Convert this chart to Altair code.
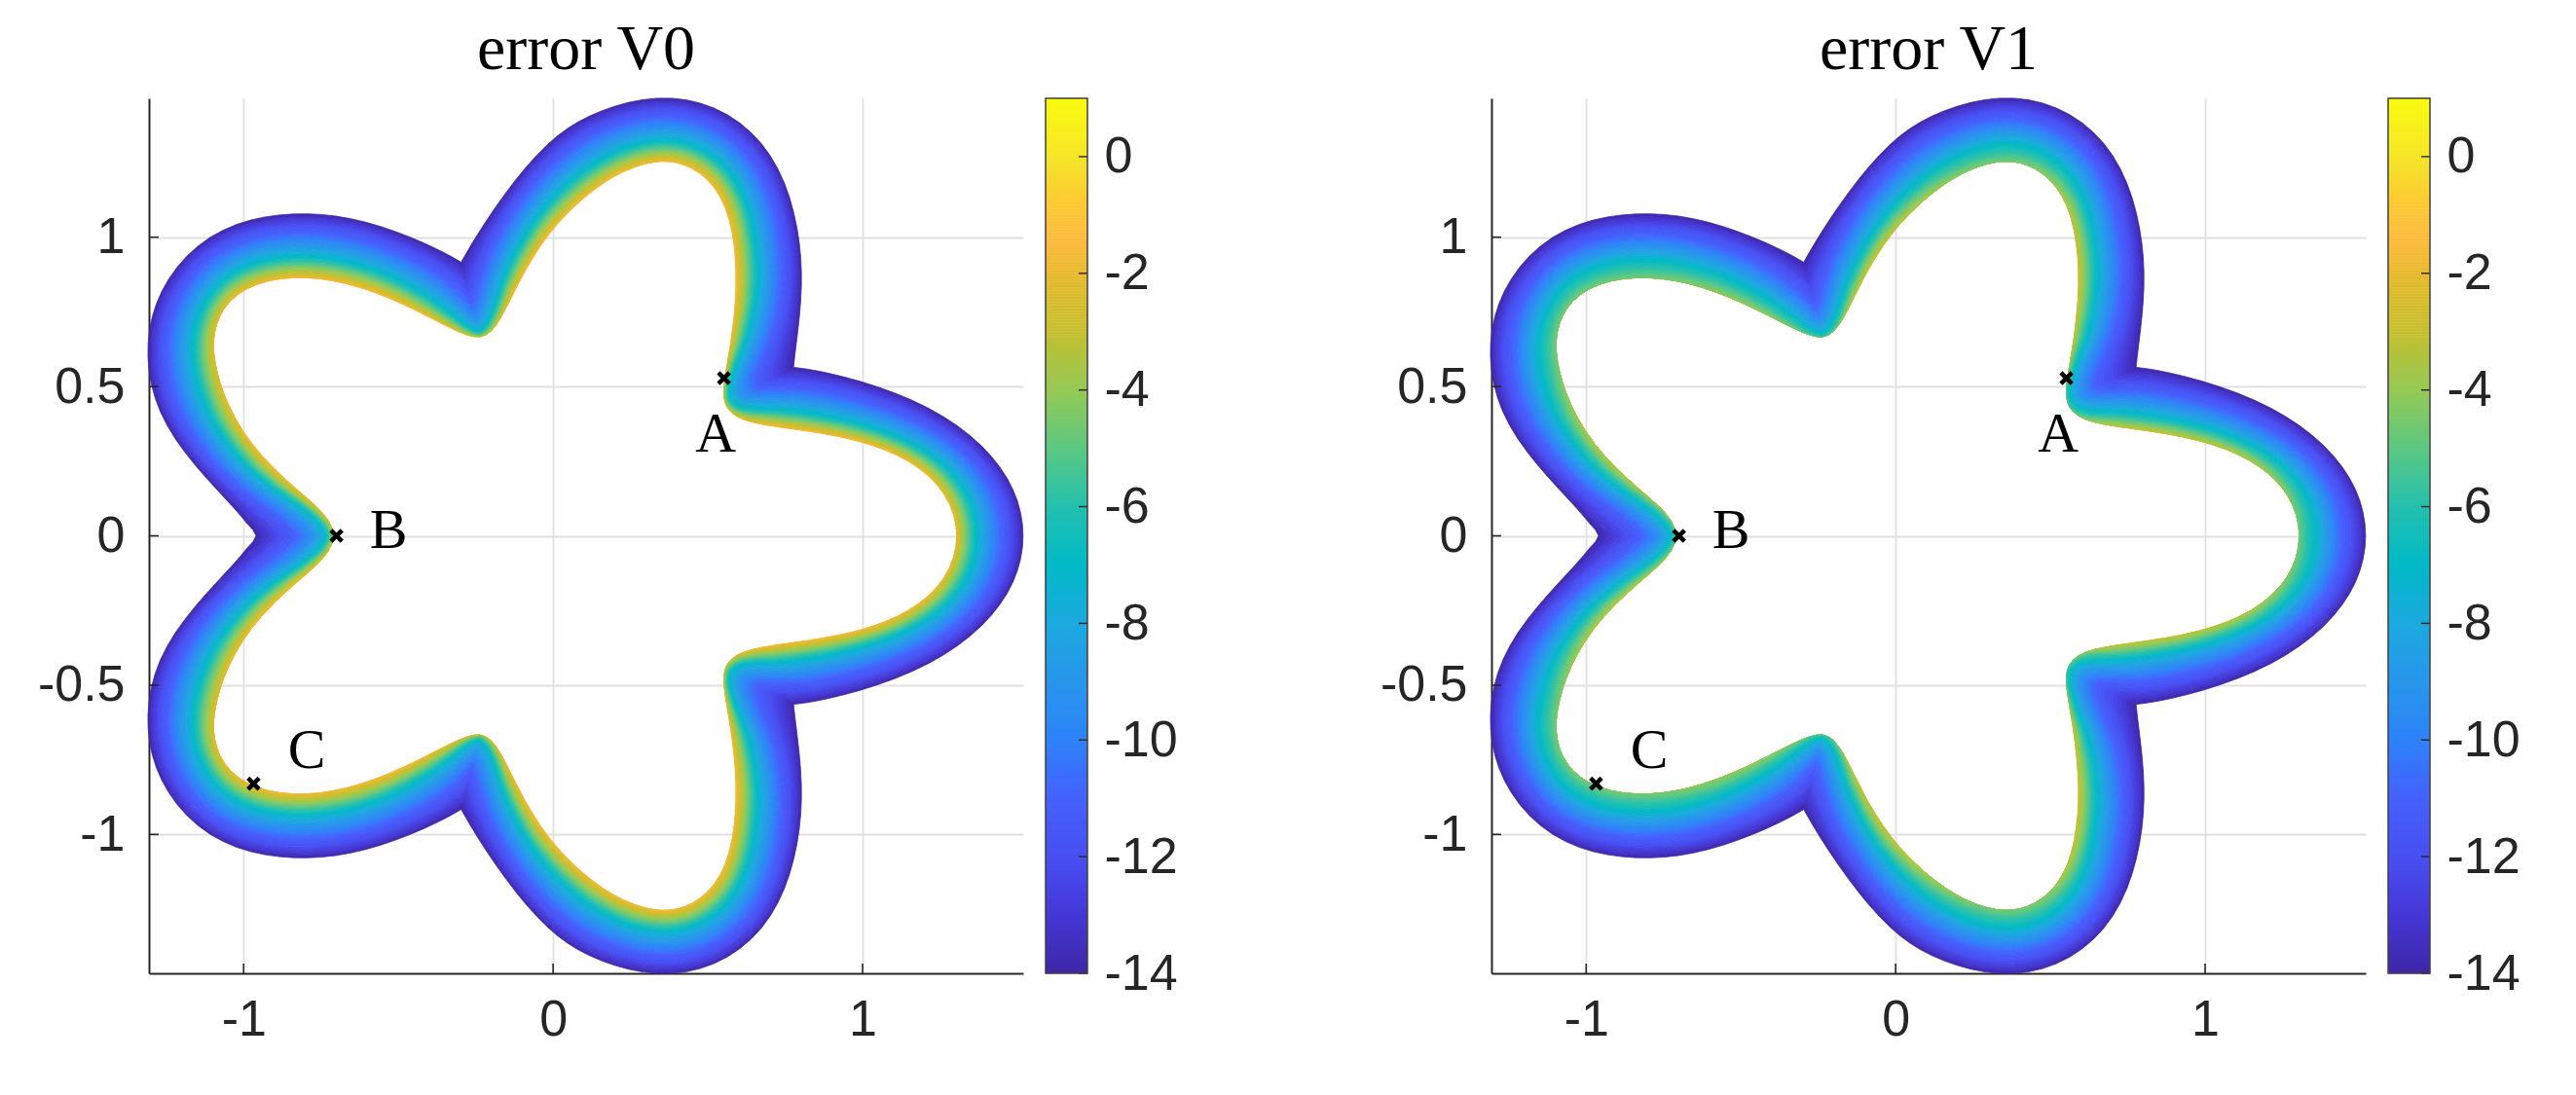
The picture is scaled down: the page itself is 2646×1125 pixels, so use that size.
import altair as alt
import numpy as np
import pandas as pd

alt.data_transformers.disable_max_rows()

# Upper half of the domain (the lower half is its mirror image in y=0)
OUTER_X = [1.516,1.508,1.484,1.443,1.381,1.302,1.213,1.111,.999,.887,.797,.777,.777,.778,.786,.797,.803,.799,.786,.763,.724,.673,.606,.516,.426,.337,.247,.157,.067,.025,-.048,-.122,-.185,-.242,-.279,-.297,-.297,-.297,-.331,-.373,-.468,-.562,-.656,-.751,-.835,-.929,-1.023,-1.107,-1.180,-1.243,-1.280,-1.301,-1.306,-1.296,-1.270,-1.222,-1.160,-1.086,-1.023,-.987,-.960]
OUTER_Y = [0,.078,.154,.230,.301,.371,.425,.474,.518,.545,.560,.564,.564,.583,.664,.751,.838,.925,1.034,1.131,1.229,1.310,1.381,1.433,1.457,1.464,1.452,1.419,1.376,1.343,1.278,1.196,1.099,1.012,.947,.916,.916,.916,.936,.958,1.001,1.039,1.063,1.073,1.074,1.066,1.042,1.001,.936,.860,.773,.686,.610,.502,.415,.328,.241,.154,.089,.040,0]
INNER_X = [1.302,1.293,1.263,1.213,1.145,1.067,.977,.876,.763,.673,.617,.578,.556,.552,.561,.575,.586,.590,.587,.575,.556,.522,.477,.415,.376,.337,.258,.191,.123,.067,.015,-.038,-.090,-.137,-.169,-.200,-.237,-.279,-.331,-.405,-.489,-.583,-.667,-.751,-.835,-.918,-.992,-1.044,-1.076,-1.092,-1.094,-1.092,-1.086,-1.065,-1.029,-.976,-.908,-.835,-.766,-.730,-.709]
INNER_Y = [0,.073,.138,.200,.250,.288,.319,.343,.360,.373,.388,.415,.458,.491,.556,.643,.751,.838,.925,1.023,1.099,1.164,1.213,1.242,1.247,1.248,1.238,1.202,1.148,1.093,1.044,.979,.892,.795,.730,.686,.669,.675,.697,.735,.778,.816,.844,.858,.863,.854,.827,.784,.740,.675,.643,.599,.556,.480,.393,.311,.230,.159,.100,.056,0]
# Share of the band's width (from the inner edge) at which the cyan contour lies
CYAN_SHARE = [.30,.31,.32,.33,.34,.34,.34,.34,.33,.30,.22,.14,.09,.09,.15,.25,.31,.34,.34,.34,.34,.34,.34,.34,.34,.34,.34,.34,.34,.34,.34,.34,.32,.28,.2,.13,.08,.14,.22,.28,.32,.34,.34,.34,.34,.34,.34,.34,.34,.34,.34,.34,.34,.34,.34,.34,.34,.30,.22,.15,.1]
# Error on the inner edge
EDGE_V0 = [-2,-2,-2,-1.9,-1.8,-1.7,-1.6,-1.6,-1.6,-1.6,-1.6,-1.6,-1.6,-1.6,-1.6,-1.6,-1.6,-1.6,-1.6,-1.6,-1.6,-1.6,-1.6,-1.7,-1.7,-1.7,-1.7,-1.6,-1.6,-1.6,-1.6,-1.6,-1.6,-1.6,-1.6,-1.6,-1.6,-1.6,-1.6,-1.6,-1.6,-1.6,-1.7,-1.8,-1.8,-1.8,-1.9,-2,-2.2,-2.3,-2.3,-2.3,-2.3,-2.2,-2.0,-1.8,-1.7,-1.6,-1.6,-1.7,-2]
EDGE_V1 = [-4.8,-4.6,-4.3,-4,-3.6,-3.3,-3.1,-3,-3,-3.2,-4,-4.5,-4.6,-4.4,-3.6,-3,-2.9,-2.8,-2.8,-3,-3.4,-3.9,-4.2,-4.5,-4.6,-4.6,-4.5,-4.2,-3.8,-3.4,-3.1,-2.9,-2.8,-3,-3.6,-4.3,-4.6,-4.5,-4.3,-4.1,-4,-4.1,-4.3,-4.5,-4.6,-4.6,-4.6,-4.6,-4.6,-4.6,-4.6,-4.6,-4.5,-4.2,-3.8,-3.5,-3.4,-3.5,-3.7,-4,-4.5]

LEVELS = list(np.arange(-14, -0.9, 0.3))
# Error levels and their share across the band, from the inner edge, per panel
KNOT_E = [-14, -13, -12, -11, -9, -7]
KNOT_SHARE = {"V0": [1, .93, .83, .71, .51, .34], "V1": [1, .92, .81, .68, .47, .29]}

POINTS_X = [.552, -.700, -.968]
POINTS_Y = [.528, 0, -.83]
LABELS = ["A", "B", "C"]
LABELS_X = [.460, -.593, -.857]
LABELS_Y = [.282, -.04, -.776]

XTICKS = [-1, 0, 1]
YTICKS = [-1, -.5, 0, .5, 1]
CTICKS = [-14, -12, -10, -8, -6, -4, -2, 0]

COLOR_E = [-14,-13,-12,-11,-10,-9,-8,-7,-6,-5,-4,-3,-2,-1.4,-.7,0,1]
COLOR_HEX = ["#3e26a8","#4537d6","#484ff2","#4561fc","#2e82f9","#2796eb","#1ca9df","#01b9c7","#24c0ae","#5cc882","#95c955","#c5bf2f","#e8b92e","#fdbb3d","#fccd32","#f5e529","#f9fb0e"]

W, H, CW = 898, 899, 43
INK = "#262626"
SANS = "Liberation Sans"
SERIF = "Liberation Serif"
SANS_SIZE = 52
SERIF_SIZE = 66


def closed(values, sign=1):
    v = np.array(values, float)
    return np.concatenate([v, sign * v[-2:0:-1]])


def relax(px, py, pairs, keep=()):
    """Even out the reading noise of hand-read boundary points without shrinking the curve."""
    P = np.c_[px, py]
    keep = list(keep)
    for _ in range(pairs):
        for f in (.5, -.53):
            Q = P + f * ((np.roll(P, 1, 0) + np.roll(P, -1, 0)) / 2 - P)
            Q[keep] = P[keep]
            P = Q
    return P


def upsample(P, n=2):
    m = len(P)
    prev, nxt = np.roll(P, 1, 0), np.roll(P, -1, 0)
    T = (nxt - prev) / 2
    a, b = P - prev, nxt - P
    la, lb = np.linalg.norm(a, axis=1), np.linalg.norm(b, axis=1)
    c = (a * b).sum(1) / np.maximum(la * lb, 1e-9)
    T[(la < 1e-9) | (lb < 1e-9) | (c < .3)] = 0
    out = []
    for i in range(m):
        j = (i + 1) % m
        for s in np.arange(n) / n:
            h = (2*s**3-3*s**2+1)*P[i] + (s**3-2*s**2+s)*T[i] + (-2*s**3+3*s**2)*P[j] + (s**3-s**2)*T[j]
            out.append(h)
    return np.array(out)


def upsample_linear(v, n=2):
    m = len(v)
    return np.array([v[i] + (v[(i+1) % m]-v[i]) * s for i in range(m) for s in np.arange(n)/n])


OX, OY = closed(OUTER_X), closed(OUTER_Y, -1)
NOTCH = [i for i in range(len(OX)) if (abs(OX[i]-OX[i-1]) + abs(OY[i]-OY[i-1]) < 1e-6)
         or (abs(OX[i]-OX[(i+1) % len(OX)]) + abs(OY[i]-OY[(i+1) % len(OX)]) < 1e-6)] + [60]
OUT = upsample(relax(OX, OY, 8, NOTCH))
INN = upsample(relax(closed(INNER_X), closed(INNER_Y, -1), 7))
CY = upsample_linear(closed(CYAN_SHARE))
POWER = np.log(CY) / np.log(.34)


def ring(e, edge, share):
    f7 = share[-1]
    if e <= -7:
        tau = np.full(len(edge), np.interp(e, KNOT_E, share))
    else:
        tau = np.clip(f7 * (edge - e) / (edge + 7), 0, 1)
    t = tau ** POWER
    return INN + t[:, None] * (OUT - INN)


def bands(edge_list, share):
    edge = upsample_linear(closed(edge_list))
    levels = [v for v in LEVELS if v <= edge.max() + .3]
    rows = []
    # hottest band first, so that bands collapsed on the inner edge end up underneath
    for k in range(len(levels) - 2, -1, -1):
        a = ring(levels[k], edge, share)
        b = ring(levels[k + 1], edge, share)
        path = np.vstack([a, a[:1], b[:1], b[::-1]])
        for o, (x, y) in enumerate(path):
            rows.append((round(float(x), 4), round(float(y), 4), k, o, round((levels[k]+levels[k+1])/2, 2)))
    return pd.DataFrame(rows, columns=["x", "y", "band", "o", "e"])


color_scale = alt.Scale(domain=COLOR_E, range=COLOR_HEX, interpolate="rgb")
sx = alt.Scale(domain=[-1.306, 1.519], nice=False, zero=False)
sy = alt.Scale(domain=[-1.465, 1.465], nice=False, zero=False)
NUM = "'' + datum.value"
XAXIS = alt.Axis(values=XTICKS, grid=True, gridColor="#e0e0e0", gridWidth=1.8, ticks=False,
                 domainColor=INK, domainWidth=2, labelFont=SANS, labelFontSize=SANS_SIZE, labelColor=INK,
                 labelPadding=22, labelExpr=NUM, title=None)
YAXIS = alt.Axis(values=YTICKS, grid=True, gridColor="#e0e0e0", gridWidth=1.8, ticks=False,
                 domainColor=INK, domainWidth=2, labelFont=SANS, labelFontSize=SANS_SIZE, labelColor=INK,
                 labelPadding=25, labelExpr=NUM, minExtent=145, maxExtent=145, title=None)


def panel(name, edge):
    base = bands(edge, KNOT_SHARE[name])
    fill = alt.Chart(base).mark_line(interpolate="linear", strokeWidth=.8, filled=True, clip=False).encode(
        x=alt.X("x:Q", scale=sx, axis=XAXIS),
        y=alt.Y("y:Q", scale=sy, axis=YAXIS),
        detail="band:N",
        order="o:Q",
        stroke=alt.Stroke("e:Q", scale=color_scale, legend=None),
        fill=alt.Fill("e:Q", scale=color_scale, legend=None),
    )
    xt = alt.Chart(pd.DataFrame({"v": XTICKS})).mark_rule(color=INK, strokeWidth=1.6).encode(
        x=alt.X("v:Q", scale=sx, axis=XAXIS), y=alt.value(H), y2=alt.value(H - 10))
    yt = alt.Chart(pd.DataFrame({"v": YTICKS})).mark_rule(color=INK, strokeWidth=1.6).encode(
        y=alt.Y("v:Q", scale=sy, axis=YAXIS), x=alt.value(0), x2=alt.value(10))
    pts = alt.Chart(pd.DataFrame({"x": POINTS_X, "y": POINTS_Y})).mark_point(
        shape="M-1,-1L1,1M-1,1L1,-1", size=130, filled=False, color="black", strokeWidth=4.5, opacity=1
    ).encode(x=alt.X("x:Q", scale=sx, axis=XAXIS), y=alt.Y("y:Q", scale=sy, axis=YAXIS))
    txt = alt.Chart(pd.DataFrame({"x": LABELS_X, "y": LABELS_Y, "t": LABELS})).mark_text(
        font=SERIF, fontSize=58, align="left", baseline="alphabetic", color="black"
    ).encode(x=alt.X("x:Q", scale=sx, axis=XAXIS), y=alt.Y("y:Q", scale=sy, axis=YAXIS), text="t:N")
    return alt.layer(fill, xt, yt, pts, txt).properties(
        width=W, height=H,
        title=alt.TitleParams(f"error {name}", font=SERIF, fontSize=SERIF_SIZE, fontWeight="normal",
                              color="black", offset=14))


def colorbar(extent):
    steps = np.arange(-14, 1, .05)
    df = pd.DataFrame({"e0": steps, "e1": steps + .06, "e": steps + .025})
    cs = alt.Scale(domain=[-14, 1], nice=False, zero=False)
    ax = alt.Axis(orient="right", values=CTICKS, grid=False, ticks=False, domain=False,
                  labelFont=SANS, labelFontSize=SANS_SIZE, labelColor=INK, labelPadding=17, labelAlign="left",
                  labelExpr=NUM, minExtent=extent, maxExtent=extent, title=None)
    rect = alt.Chart(df).mark_rect().encode(
        y=alt.Y("e0:Q", scale=cs, axis=ax),
        y2="e1:Q",
        x=alt.value(0), x2=alt.value(CW),
        fill=alt.Fill("e:Q", scale=color_scale, legend=None),
    )
    ticks = alt.Chart(pd.DataFrame({"v": CTICKS})).mark_rule(color=INK, strokeWidth=1.4).encode(
        y=alt.Y("v:Q", scale=cs, axis=ax), x=alt.value(CW - 9), x2=alt.value(CW))
    box = alt.Chart(pd.DataFrame({"a": [-14], "b": [1]})).mark_rect(
        fill=None, stroke="#404040", strokeWidth=1.5).encode(
        y=alt.Y("a:Q", scale=cs, axis=ax), y2="b:Q", x=alt.value(0), x2=alt.value(CW))
    return alt.layer(rect, ticks, box).properties(
        width=CW, height=H,
        title=alt.TitleParams(" ", font=SERIF, fontSize=SERIF_SIZE, fontWeight="normal", offset=14))


chart = alt.hconcat(
    panel("V0", EDGE_V0), colorbar(250), panel("V1", EDGE_V1), colorbar(100), spacing=20
).properties(padding={"left": 0, "top": 10, "right": 0, "bottom": 0}).configure_view(stroke=None)

chart.save("out.html", embed_options={"renderer": "svg", "actions": False})
